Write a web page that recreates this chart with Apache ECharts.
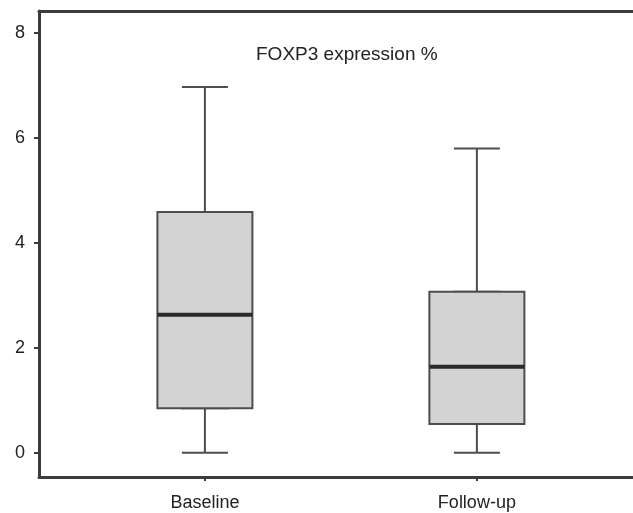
<!DOCTYPE html>
<html>
<head>
<meta charset="utf-8">
<script src="https://cdn.jsdelivr.net/npm/echarts@6/dist/echarts.min.js"></script>
<style>
  html, body { margin: 0; padding: 0; background: #fff; }
  #chart { width: 633px; height: 513px; }
</style>
</head>
<body>
<div id="chart"></div>
<script>
var categories = ['Baseline', 'Follow-up'];
var positions = [1, 2];
var mins = [0, 0];
var q1s = [0.85, 0.55];
var medians = [2.63, 1.64];
var q3s = [4.59, 3.07];
var maxs = [6.97, 5.8];
var yTicks = [0, 2, 4, 6, 8];

var whiskerData = positions.map(function (p, i) {
  return [p, mins[i], q1s[i], medians[i], q3s[i], maxs[i]];
});
var bodyData = positions.map(function (p, i) {
  return [p, q1s[i], q1s[i], medians[i], q3s[i], q3s[i]];
});
var medianData = positions.map(function (p, i) {
  return [p, medians[i]];
});

var lineColor = '#4d4d4d';
var axisColor = '#3c3c3c';

var myChart = echarts.init(document.getElementById('chart'));
myChart.setOption({
  animation: false,
  title: {
    text: 'FOXP3 expression %',
    left: 251,
    top: 40,
    textStyle: { fontFamily: 'Liberation Sans', fontSize: 19, fontWeight: 'normal', color: '#222' }
  },
  grid: { left: 39, right: 0, top: 11, bottom: 36 },
  xAxis: [
    {
      type: 'value',
      min: 0.39,
      max: 2.574,
      splitLine: { show: false },
      axisLine: { onZero: false, lineStyle: { color: axisColor, width: 3 } },
      axisTick: { customValues: positions, length: 4, lineStyle: { color: axisColor, width: 2 } },
      axisLabel: {
        customValues: positions,
        margin: 17,
        fontFamily: 'Liberation Sans',
        fontSize: 18,
        color: '#222',
        formatter: function (v) { return categories[positions.indexOf(v)]; }
      }
    },
    {
      type: 'value',
      position: 'top',
      min: 0.39,
      max: 2.574,
      splitLine: { show: false },
      axisLine: { show: true, onZero: false, lineStyle: { color: axisColor, width: 3 } },
      axisTick: { show: false },
      axisLabel: { show: false }
    }
  ],
  yAxis: {
    type: 'value',
    min: -0.46,
    max: 8.42,
    splitLine: { show: false },
    axisLine: { show: true, onZero: false, lineStyle: { color: axisColor, width: 3 } },
    axisTick: { show: true, customValues: yTicks, length: 5, lineStyle: { color: axisColor, width: 2 } },
    axisLabel: {
      customValues: yTicks,
      margin: 14,
      fontFamily: 'Liberation Sans',
      fontSize: 18,
      color: '#222'
    }
  },
  series: [
    {
      // whiskers and caps
      type: 'boxplot',
      xAxisIndex: 0,
      boxWidth: [46, 46],
      data: whiskerData,
      itemStyle: { color: '#d3d3d3', borderColor: lineColor, borderWidth: 2 }
    },
    {
      // wide box body, on the top axis so it is not dodged
      type: 'boxplot',
      xAxisIndex: 1,
      boxWidth: [95, 95],
      data: bodyData,
      itemStyle: { color: '#d3d3d3', borderColor: lineColor, borderWidth: 2 }
    },
    {
      type: 'scatter',
      xAxisIndex: 0,
      symbol: 'rect',
      symbolSize: [95, 4],
      data: medianData,
      itemStyle: { color: '#2a2a2a', opacity: 1 }
    }
  ]
});
</script>
</body>
</html>
